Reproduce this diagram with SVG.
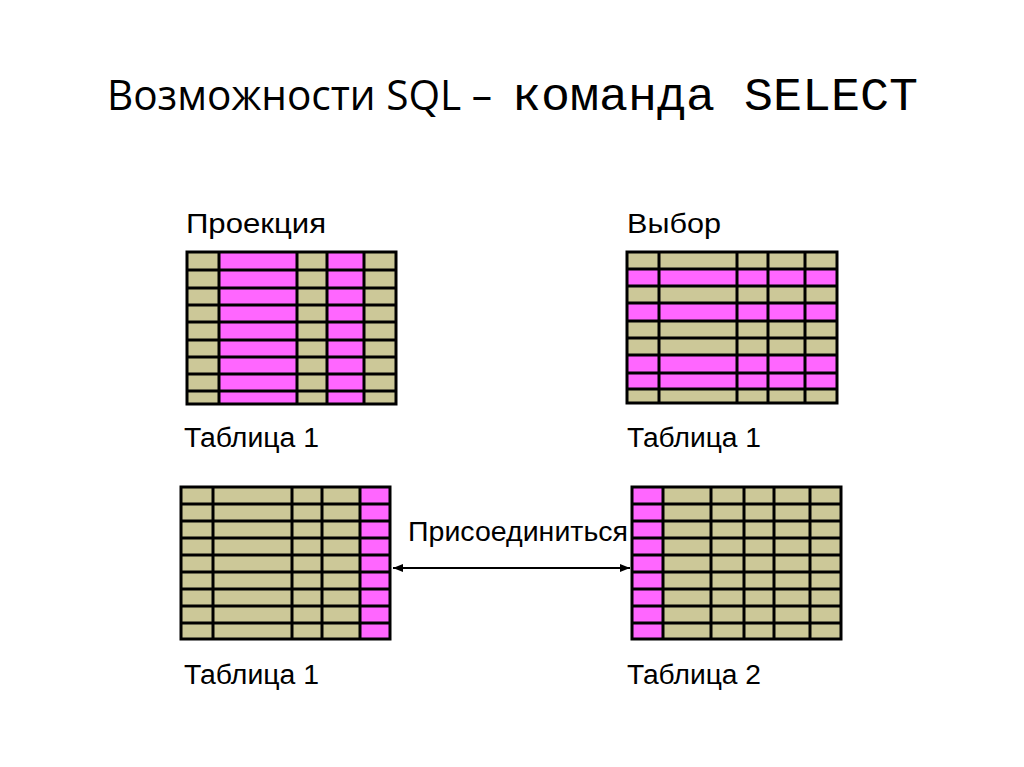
<svg xmlns="http://www.w3.org/2000/svg" width="1024" height="767" viewBox="0 0 1024 767">
<style>
.t{fill:#CCC898}.p{fill:#FF66FF}.g{fill:none;stroke:#000;stroke-width:3}
.lb{font-family:"Liberation Sans",Arial,sans-serif;font-size:27px;fill:#000}
</style>
<defs>
<marker id="ah" viewBox="0 0 10 10" refX="10" refY="5" markerWidth="10" markerHeight="10" markerUnits="userSpaceOnUse" orient="auto-start-reverse"><path d="M0,1 L10,5 L0,9 Z" fill="#000"/></marker>
</defs>
<rect width="1024" height="767" fill="#fff"/>
<text x="107" y="110" font-family="'Open Sans','Liberation Sans',sans-serif" font-size="42" textLength="385" lengthAdjust="spacingAndGlyphs">Возможности SQL –</text>
<text x="512" y="110" font-family="'Liberation Mono',monospace" font-size="47" textLength="406" lengthAdjust="spacingAndGlyphs">команда SELECT</text>

<g id="proj">
<text class="lb" x="186" y="233" textLength="140" lengthAdjust="spacingAndGlyphs">Проекция</text>
<rect class="t" x="187" y="252" width="209" height="152"/>
<rect class="p" x="219" y="252" width="78" height="152"/>
<rect class="p" x="327" y="252" width="37" height="152"/>
<path class="g" d="M187,252H396V404H187Z M219,252V404 M297,252V404 M327,252V404 M364,252V404 M187,270H396 M187,288H396 M187,305H396 M187,322H396 M187,340H396 M187,357H396 M187,374H396 M187,391H396"/>
<text class="lb" x="184" y="447" textLength="135" lengthAdjust="spacingAndGlyphs">Таблица 1</text>
</g>

<g id="sel">
<text class="lb" x="627" y="233" textLength="94" lengthAdjust="spacingAndGlyphs">Выбор</text>
<rect class="t" x="627" y="252" width="210" height="151"/>
<rect class="p" x="627" y="269" width="210" height="17"/>
<rect class="p" x="627" y="303" width="210" height="18"/>
<rect class="p" x="627" y="355" width="210" height="34"/>
<path class="g" d="M627,252H837V403H627Z M659,252V403 M737,252V403 M768,252V403 M805,252V403 M627,269H837 M627,286H837 M627,303H837 M627,321H837 M627,338H837 M627,355H837 M627,373H837 M627,389H837"/>
<text class="lb" x="627" y="447" textLength="134" lengthAdjust="spacingAndGlyphs">Таблица 1</text>
</g>

<g id="join1">
<rect class="t" x="181" y="487" width="209" height="152"/>
<rect class="p" x="360" y="487" width="30" height="152"/>
<path class="g" d="M181,487H390V639H181Z M213,487V639 M292,487V639 M322,487V639 M360,487V639 M181,504H390 M181,521H390 M181,538H390 M181,555H390 M181,572H390 M181,589H390 M181,606H390 M181,623H390"/>
<text class="lb" x="184" y="684" textLength="135" lengthAdjust="spacingAndGlyphs">Таблица 1</text>
</g>

<g id="join2">
<rect class="t" x="632" y="487" width="209" height="152"/>
<rect class="p" x="632" y="487" width="31" height="152"/>
<path class="g" d="M632,487H841V639H632Z M663,487V639 M711,487V639 M744,487V639 M774,487V639 M810,487V639 M632,504H841 M632,521H841 M632,538H841 M632,555H841 M632,572H841 M632,589H841 M632,606H841 M632,623H841"/>
<text class="lb" x="627" y="684" textLength="134" lengthAdjust="spacingAndGlyphs">Таблица 2</text>
</g>

<g id="connectors">
<line x1="393" y1="568" x2="630" y2="568" stroke="#000" stroke-width="2" marker-start="url(#ah)" marker-end="url(#ah)"/>
<text class="lb" x="408" y="541" textLength="220" lengthAdjust="spacingAndGlyphs">Присоединиться</text>
</g>
</svg>
